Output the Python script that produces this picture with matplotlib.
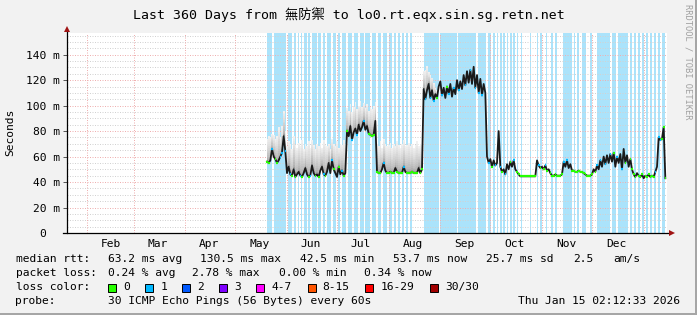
import matplotlib
matplotlib.use("Agg")
import matplotlib.pyplot as plt
import matplotlib.dates as mdates
from matplotlib.patches import Rectangle
import numpy as np
import pandas as pd

# graph window (360 days up to the render time)
t_start = pd.Timestamp("2025-01-20 02:12:33")
t_end = pd.Timestamp("2026-01-15 02:12:33")

# one median per day, first sample on this date
first_day = "2025-05-20 02:12:33"
median_ms = [
    56, 55, 57, 66, 60, 58, 55, 57, 60, 63, 76, 64,
    47, 52, 46, 45, 50, 44, 46, 48, 45, 44, 47, 51, 46, 44, 45, 53, 47, 45,
    46, 44, 49, 52, 46, 45, 48, 55, 47, 57, 50, 47, 44, 52, 46, 49, 45, 47,
    80, 76, 84, 73, 79, 82, 77, 85, 80, 83, 88, 81, 84, 78, 77, 76, 77, 88,
    48, 47, 47, 50, 55, 49, 47, 47, 48, 47, 47, 51, 48, 47, 47, 47, 52, 48,
    47, 47, 47, 48, 47, 47, 47, 51, 47, 50,
    113, 105, 112, 117, 106, 112, 104, 109, 106, 115, 119, 108, 114, 106,
    115, 109, 117, 107, 114, 109, 120, 112, 119, 113, 124, 116, 127, 118,
    128, 117, 130.5, 114, 124, 110, 121, 108, 117, 110,
    60, 55, 58, 52, 57, 53, 55, 80, 52, 48, 50, 46, 54, 50, 56, 52, 57, 50, 48, 46,
    44.5, 44.5, 44.5, 44.5, 44.5, 44.5, 44.5, 44.5, 44.5, 44.5,
    57, 53, 51, 52, 50, 53, 49, 50, 47, 45, 45, 46, 45, 45, 45, 46,
    56, 52, 57, 51, 54, 49, 49, 48, 48, 49, 48, 48, 47, 46, 45, 45, 45, 46,
    50, 48, 53, 50, 57, 52, 60, 54, 61, 55, 62, 56, 63, 52, 60, 55, 62, 50,
    66, 55, 61, 52, 58,
    50, 46, 44, 47, 45, 44, 46, 43, 45, 44, 46, 44, 45, 44, 48, 52,
    75, 73, 74, 83, 43,
]

# pings lost per sample; fractional averages get no loss colour
loss = [
    0, 0, .5, 1, .5, 0, 0, .5, 1, 1, .5, 1,
    .5, .5, 1, 0, .5, 0, .5, .5, 1, 0, .5, .5, .5, 0, 1, .5, .5, 0,
    .5, 0, .5, .5, 1, 0, .5, .5, .5, 1, 0, .5, .5, 0, .5, 1, 0, .5,
    0, .5, .5, 1, .5, .5, 1, .5, .5, .5, 1, .5, .5, 0, 0, 0, 0, .5,
    0, 0, 0, .5, 1, .5, 0, 0, 0, 0, 0, .5, 0, 0, 0, 0, 1, .5,
    0, 0, 0, 0, 0, 0, 0, .5, 0, 0,
    .5, 1, .5, .5, 1, .5, 1, .5, 0, .5, .5, 1, .5, .5, 0, 1, .5, .5, 1,
    .5, .5, 1, .5, .5, .5, 1, .5, .5, 1, .5, .5, 1, .5, 1, .5, 1, .5, .5,
    .5, 1, .5, 0, .5, 1, .5, .5, 1, 0, .5, 1, .5, .5, 0, .5, 1, .5, 0, 0,
    0, 0, 0, 0, 0, 0, 0, 0, 0, 0,
    .5, 1, 0, .5, 0, 1, 0, .5, 0, 0, 0, 0, 0, 0, 0, 0,
    1, .5, 1, .5, .5, 0, 0, 0, 0, 0, 0, 0, 0, 0, 0, 0, 0, 0,
    .5, 0, 1, .5, 1, .5, .5, 1, .5, .5, 1, .5, 0, .5, 1, .5, .5, 1,
    .5, 0, .5, .5, 0,
    0, 0, 0, .5, 0, 0, 0, .5, 0, 0, 0, 0, 0, 0, 1, .5,
    1, 1, 0, 0, 0,
]

# top of the smoke (slowest pings), same days as median_ms from first_day
smoke_top_ms = [
    74, 76, 75, 78, 77, 74, 76, 83, 75, 84, 96, 80,
    68, 72, 70, 66, 76, 69, 67, 71, 68, 73, 66, 70, 68, 72, 67, 73, 69, 66,
    70, 68, 71, 67, 73, 69, 68, 70, 66, 74, 70, 68, 72, 67, 70, 69, 73, 70,
    98, 96, 101, 95, 99, 103, 97, 100, 104, 99, 102, 98, 101, 96, 99, 97, 100, 103,
    70, 68, 72, 67, 74, 70, 68, 69, 71, 67, 70, 68, 72, 69, 67, 70, 73, 68,
    69, 71, 68, 70, 67, 69, 72, 68, 70, 69,
    127, 128, 131, 126, 124, 122, 118, 114, 112,
]

# blue background periods, in days after t_start
loss_periods = [
    (120.0, 123.0), (123.9, 131.7), (132.6, 135.0), (135.9, 137.7), (138.6, 139.5),
    (140.4, 141.3), (142.2, 143.7), (144.6, 146.1), (147.0, 149.7), (150.6, 152.7),
    (153.6, 154.8), (156.0, 158.4), (159.3, 161.4), (162.3, 163.8), (164.7, 167.4),
    (168.3, 171.0), (171.9, 174.6), (175.5, 178.2), (179.1, 181.8), (182.7, 185.4),
    (186.3, 188.4), (189.3, 192.0), (192.9, 195.0), (195.9, 197.4), (198.6, 199.8),
    (201.0, 202.2), (203.4, 204.6), (205.8, 207.0), (214.2, 222.9), (223.8, 233.7),
    (234.6, 245.4), (246.3, 251.4), (252.3, 254.4), (255.6, 256.8), (257.7, 258.6),
    (259.8, 260.7), (261.6, 262.8), (263.7, 264.6), (265.8, 266.7), (267.6, 268.8),
    (270.0, 270.6), (272.4, 273.0), (277.8, 278.4), (282.0, 282.6), (283.8, 284.7),
    (287.4, 288.0), (290.4, 291.6), (292.8, 294.0), (297.6, 303.0), (304.2, 305.1),
    (306.0, 306.9), (309.0, 311.4), (313.8, 315.0), (318.0, 325.8), (326.7, 329.4),
    (330.3, 336.6), (337.8, 339.0), (340.2, 341.4), (342.6, 343.8), (345.0, 346.2),
    (347.4, 348.6), (349.8, 351.0), (352.2, 353.4), (354.6, 355.8), (357.0, 358.8),
]

months = ["Feb", "Mar", "Apr", "May", "Jun", "Jul", "Aug", "Sep", "Oct", "Nov", "Dec"]
month_nums = [2, 3, 4, 5, 6, 7, 8, 9, 10, 11, 12]
yticks = [0, 20, 40, 60, 80, 100, 120, 140]
ytick_labels = ["0  ", "20 m", "40 m", "60 m", "80 m", "100 m", "120 m", "140 m"]

loss_names = ["0", "1", "2", "3", "4-7", "8-15", "16-29", "30/30"]
loss_colors = ["#26ff00", "#00b8ff", "#0059ff", "#7e00ff", "#ff00ff",
               "#ff5500", "#ff0000", "#a10000"]

title = "Last 360 Days from 無防禦 to lo0.rt.eqx.sin.sg.retn.net"
rtt_stats = ["63.2 ms avg", "130.5 ms max", "42.5 ms min", "53.7 ms now", "25.7 ms sd", "2.5", "am/s"]
loss_stats = ["0.24 % avg", "2.78 % max", "0.00 % min", "0.34 % now"]
probe_text = "30 ICMP Echo Pings (56 Bytes) every 60s"
stamp = "Thu Jan 15 02:12:33 2026"

MONO = ["DejaVu Sans Mono", "Noto Sans CJK TC"]
W, H = 697, 315
BG = "#f2f2f2"
BLUE = "#abe3fb"
plt.rcParams["font.family"] = MONO

fig = plt.figure(figsize=(W / 100, H / 100), dpi=100, facecolor=BG)
ax = fig.add_axes([67 / W, (H - 233) / H, 600 / W, 200 / H])
ax.set_facecolor("white")


def d2n(ts):
    return mdates.date2num(pd.Timestamp(ts).to_pydatetime())


x0, x1 = d2n(t_start), d2n(t_end)
days = pd.date_range(first_day, periods=len(median_ms), freq="D")
x = mdates.date2num(days.to_pydatetime())
med = np.array(median_ms, dtype=float)
lossa = np.array(loss, dtype=float)

# loss background
for a, b in loss_periods:
    ax.axvspan(x0 + a, x0 + b, color=BLUE, lw=0, zorder=1)

# grid, faint dotted
gkw = dict(lw=0.72, linestyle=(0, (1, 1.5)), zorder=2)
for v in np.arange(0, 160, 5):
    if v % 20:
        ax.axhline(v, color="#d2d2d2", **gkw)
for v in yticks[1:]:
    ax.axhline(v, color="#efb0b0", **gkw)
for m in month_nums:
    ax.axvline(d2n(f"2025-{m:02d}-01"), color="#efb0b0", **gkw)
ax.axvline(d2n("2026-01-01"), color="#efb0b0", **gkw)

# smoke
ns = len(smoke_top_ms)
top = np.array(smoke_top_ms, dtype=float)
nl = 14
for k in range(nl):
    lo = med[:ns] + (top - med[:ns]) * k / nl
    hi = med[:ns] + (top - med[:ns]) * (k + 1) / nl
    g = 0.62 + 0.32 * (k / (nl - 1)) ** 0.6
    ax.fill_between(x[:ns], lo, hi, step="mid", color=(g, g, g), lw=0, zorder=3)

# median line and loss colours
ax.plot(x, med, color="#1a1a1a", lw=1.3, zorder=5)
for lv, col in [(0, loss_colors[0]), (1, loss_colors[1])]:
    mk = lossa == lv
    ax.hlines(med[mk], x[mk] - 0.5, x[mk] + 0.5, colors=col, lw=1.6, zorder=6)

ax.set_xlim(x0, x1)
ax.set_ylim(0, 157)
for s in ax.spines.values():
    s.set_visible(False)

ax.set_yticks(yticks)
ax.set_yticklabels(ytick_labels, fontsize=8.1)
ax.tick_params(axis="y", length=3, width=0.7, color="#555555", pad=2)
ax.set_xticks([d2n(f"2025-{m:02d}-15 12:00") for m in month_nums])
ax.set_xticklabels(months, fontsize=8.1)
ax.tick_params(axis="x", length=0, pad=4)

# axes with arrow heads
ax.plot([0, 0], [0, 1.012], color="black", lw=0.9, transform=ax.transAxes, clip_on=False, zorder=7)
ax.plot([-0.007, 1.003], [0, 0], color="black", lw=0.9, transform=ax.transAxes, clip_on=False, zorder=7)
ax.plot([0], [1.022], marker="^", ms=4.5, color="#a01414", mew=0,
        transform=ax.transAxes, clip_on=False, zorder=8)
ax.plot([1.008], [0], marker=">", ms=4.5, color="#a01414", mew=0,
        transform=ax.transAxes, clip_on=False, zorder=8)


def ftxt(px, py, s, **kw):
    kw.setdefault("fontsize", 8.1)
    kw.setdefault("va", "center")
    fig.text(px / W, 1 - py / H, s, **kw)


ftxt(348.5, 15, title, ha="center", fontsize=9.5)
ftxt(10.5, 132.6, "Seconds", ha="center", rotation=90)
ftxt(688, 62, "RRDTOOL / TOBI OETIKER", ha="center", rotation=-90, fontsize=6.3, color="#a0a0a0")

ftxt(15.5, 259.3, "median rtt:")
for px, s in zip([107.6, 200, 300, 393, 486, 573, 613], rtt_stats):
    ftxt(px, 259.3, s)
ftxt(15.5, 273.3, "packet loss:")
for px, s in zip([107.6, 192.4, 279, 364.4], loss_stats):
    ftxt(px, 273.3, s)
ftxt(15.5, 287.3, "loss color:")
box_x = [108, 145.3, 182.2, 219, 256.4, 307.5, 365.3, 430]
for bx, name, col in zip(box_x, loss_names, loss_colors):
    fig.patches.append(Rectangle((bx / W, 1 - 291.5 / H), 8 / W, 8 / H, transform=fig.transFigure,
                                 facecolor=col, edgecolor="black", lw=0.7))
    ftxt(bx + 15, 287.3, name)
ftxt(15.5, 301, "probe:")
ftxt(107.6, 301, probe_text)
ftxt(680, 301, stamp, ha="right")

# 3d-ish frame
fig.patches.append(Rectangle((1 - 2 / W, 0), 2 / W, 1, transform=fig.transFigure, color="#a6a6a6", lw=0))
fig.patches.append(Rectangle((0, 0), 1, 2 / H, transform=fig.transFigure, color="#a6a6a6", lw=0))

fig.savefig("out.png", dpi=100, facecolor=BG)
